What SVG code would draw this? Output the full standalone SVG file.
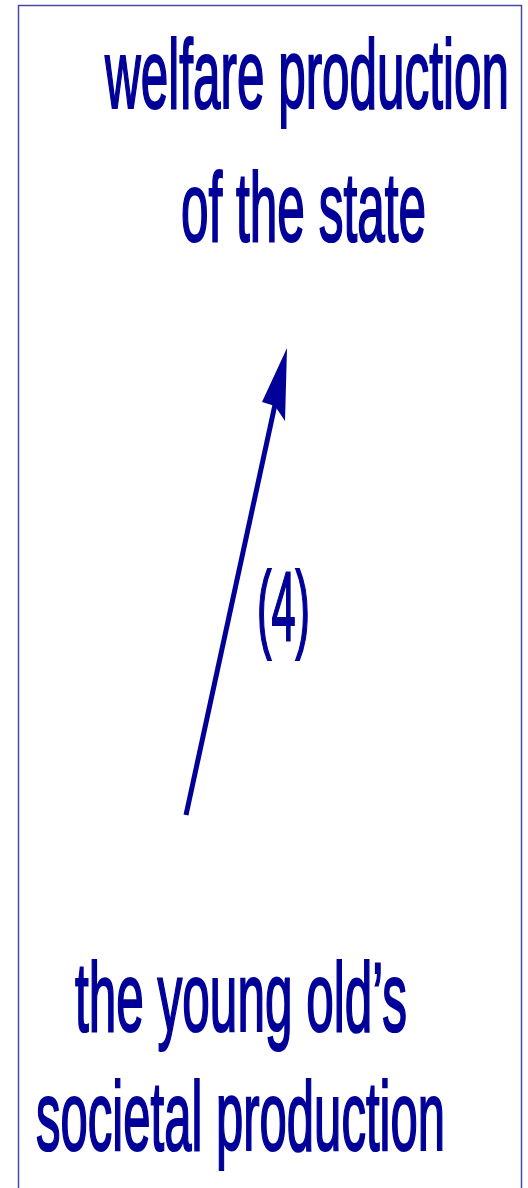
<svg xmlns="http://www.w3.org/2000/svg" width="528" height="1188" viewBox="0 0 528 1188">
<style>
.t{font-family:"Liberation Sans",Arial,sans-serif;font-size:98px;fill:#000099;stroke:#000099;stroke-width:2.2}
</style>
<rect width="528" height="1188" fill="#ffffff"/>
<rect x="18.5" y="5.5" width="503" height="1200" fill="none" stroke="#4848a8" stroke-width="1.5"/>
<g id="node-state">
<text class="t" transform="translate(105,108) scale(0.5046,1)">welfare production</text>
<text class="t" transform="translate(181,241) scale(0.5053,1)">of the state</text>
</g>
<g id="node-young">
<text class="t" transform="translate(75,1031) scale(0.5052,1)">the young old’s</text>
<text class="t" transform="translate(36,1150) scale(0.5006,1)">societal production</text>
</g>
<g id="connectors">
<line x1="186" y1="815" x2="276" y2="400" stroke="#000099" stroke-width="5"/>
<polygon points="287,348 262,402 275,406 285,421" fill="#000099"/>
<text class="t" transform="translate(257,640) scale(0.442,1)">(4)</text>
</g>
</svg>
